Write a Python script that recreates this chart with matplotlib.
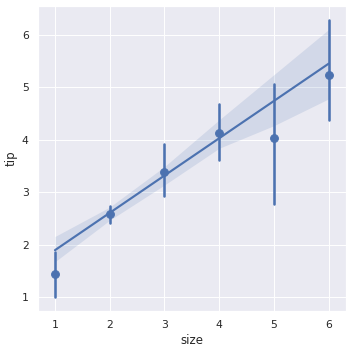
import matplotlib
matplotlib.use("Agg")
import matplotlib.pyplot as plt
import seaborn as sns
import numpy as np

sns.set_theme(style="darkgrid")

# mean tip per party size, with bootstrap CI
size = [1, 2, 3, 4, 5, 6]
tip_mean = [1.44, 2.58, 3.39, 4.13, 4.03, 5.23]
ci_low = [1.00, 2.42, 2.93, 3.62, 2.78, 4.38]
ci_high = [1.87, 2.74, 3.93, 4.69, 5.07, 6.29]

# regression line and its confidence band
fit_x = [1, 2, 3, 4, 5, 6]
fit_y = [1.90, 2.61, 3.32, 4.03, 4.74, 5.45]
band_low = [1.68, 2.47, 3.14, 3.84, 4.27, 4.78]
band_high = [2.16, 2.72, 3.49, 4.38, 5.24, 6.10]

color = sns.color_palette("deep")[0]

fig = plt.figure(figsize=(5, 5), dpi=70.4)
ax = fig.add_axes([0.108, 0.117, 0.875, 0.866])

for x, lo, hi in zip(size, ci_low, ci_high):
    ax.plot([x, x], [lo, hi], color=color, lw=2.625)
ax.scatter(size, tip_mean, color=color, s=64, zorder=3)

ax.plot(fit_x, fit_y, color=color, lw=2.2)
ax.fill_between(fit_x, band_low, band_high, color=color, alpha=0.15, lw=0)

ax.set_xlim(0.69, 6.32)
ax.set_ylim(0.745, 6.55)
ax.set_xticks(size)
ax.set_yticks([1, 2, 3, 4, 5, 6])
ax.set_xlabel("size")
ax.set_ylabel("tip")

fig.savefig("out.png", dpi=70.4)
